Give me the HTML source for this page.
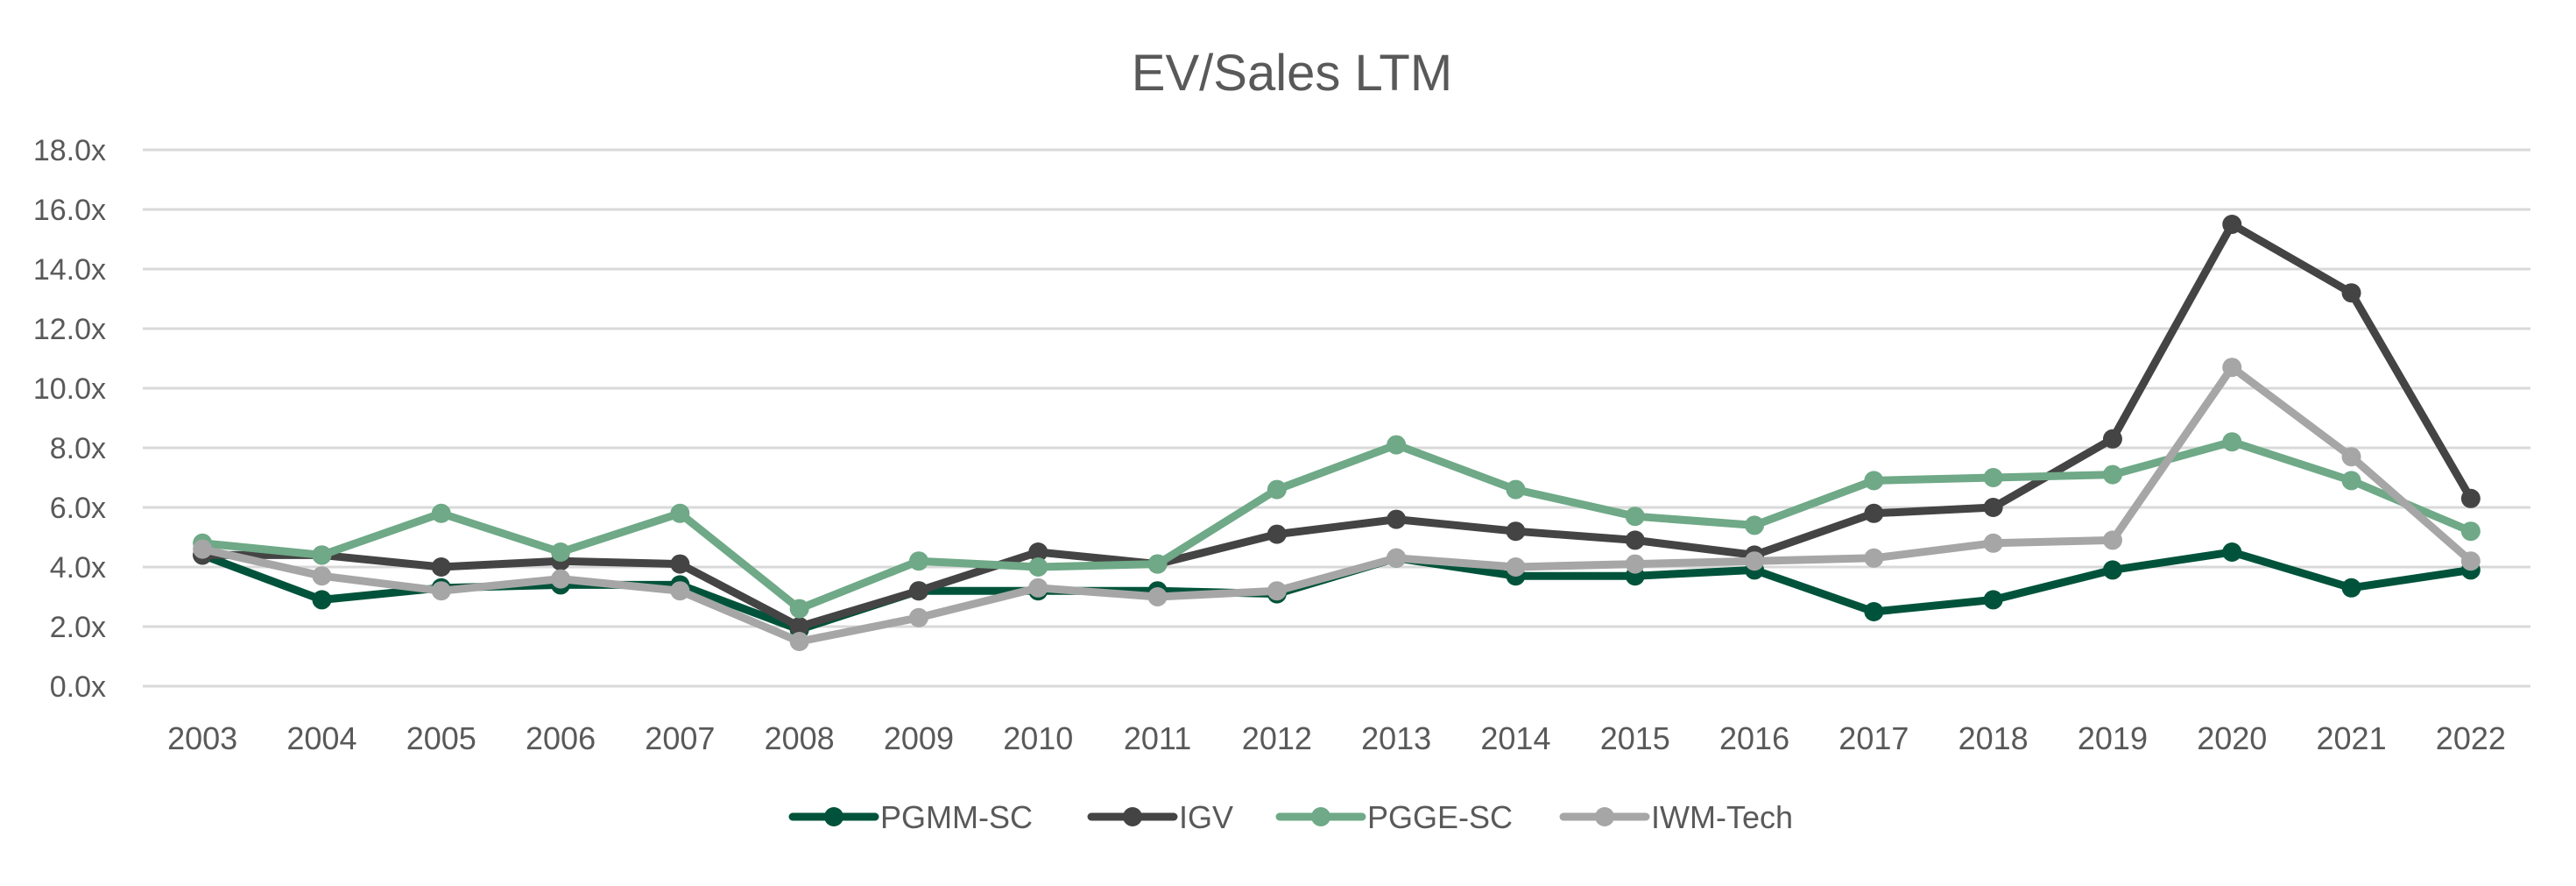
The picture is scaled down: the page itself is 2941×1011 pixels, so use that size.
<!DOCTYPE html>
<html><head><meta charset="utf-8"><style>
html,body{margin:0;padding:0;background:#fff;}
svg{display:block;font-family:"Liberation Sans","DejaVu Sans",sans-serif;}
</style></head><body>
<svg id="chart" width="2941" height="1011" viewBox="0 0 2941 1011" xmlns="http://www.w3.org/2000/svg">
<text x="1475" y="103" text-anchor="middle" font-size="58" fill="#595959">EV/Sales LTM</text>
<g id="grid"></g>
<g id="yaxis"></g>
<g id="xaxis"></g>
<g id="series"></g>
<g id="legend"></g>
</svg>
<script>
const categories = ["2003","2004","2005","2006","2007","2008","2009","2010","2011","2012","2013","2014","2015","2016","2017","2018","2019","2020","2021","2022"];
const yTicks = [0,2,4,6,8,10,12,14,16,18];
const seriesNames = ["PGMM-SC","IGV","PGGE-SC","IWM-Tech"];
const pgmm = [4.4,2.9,3.3,3.4,3.4,1.9,3.2,3.2,3.2,3.1,4.3,3.7,3.7,3.9,2.5,2.9,3.9,4.5,3.3,3.9];
const igv  = [4.4,4.4,4.0,4.2,4.1,2.0,3.2,4.5,4.1,5.1,5.6,5.2,4.9,4.4,5.8,6.0,8.3,15.5,13.2,6.3];
const pgge = [4.8,4.4,5.8,4.5,5.8,2.6,4.2,4.0,4.1,6.6,8.1,6.6,5.7,5.4,6.9,7.0,7.1,8.2,6.9,5.2];
const iwm  = [4.6,3.7,3.2,3.6,3.2,1.5,2.3,3.3,3.0,3.2,4.3,4.0,4.1,4.2,4.3,4.8,4.9,10.7,7.7,4.2];

const NS="http://www.w3.org/2000/svg";
const plotL=163, plotR=2889, plotT=171, plotB=783, yMax=18;
const band=(plotR-plotL)/categories.length;
function xPos(i){return plotL+band*(i+0.5);}
function yPos(v){return plotB-(v/yMax)*(plotB-plotT);}
function mk(tag,attrs,parent){const e=document.createElementNS(NS,tag);for(const k in attrs)e.setAttribute(k,attrs[k]);parent.appendChild(e);return e;}

const grid=document.getElementById('grid'), yax=document.getElementById('yaxis'), xax=document.getElementById('xaxis');
yTicks.forEach(t=>{
  const l=mk('line',{x1:plotL,x2:plotR,y1:yPos(t),y2:yPos(t),stroke:'#d9d9d9','stroke-width':3},grid);
  
  
  const tx=mk('text',{x:121,y:yPos(t)+12,'text-anchor':'end','font-size':34,fill:'#595959'},yax);
  tx.textContent=t.toFixed(1)+'x';
  
  
});
categories.forEach((c,i)=>{
  const tx=mk('text',{x:xPos(i),y:855,'text-anchor':'middle','font-size':36,fill:'#595959'},xax);
  tx.textContent=c;
  
  
});
const seriesData=[pgmm,igv,pgge,iwm];
const colors=["#00533a","#444444","#6fa987","#a6a6a6"];
const sg=document.getElementById('series');
seriesData.forEach((d,s)=>{
  const g=mk('g',{},sg);
  
  
  const pts=d.map((v,i)=>xPos(i)+','+yPos(v)).join(' ');
  const pl=mk('polyline',{points:pts,fill:'none',stroke:colors[s],'stroke-width':9,'stroke-linejoin':'round','stroke-linecap':'round'},g);
  
  
  d.forEach((v,i)=>{
    const c=mk('circle',{cx:xPos(i),cy:yPos(v),r:11,fill:colors[s]},g);
    
    
  });
});
const lg=document.getElementById('legend');
const legX=[952,1293,1508,1832];
seriesNames.forEach((n,s)=>{
  const g=mk('g',{},lg);
  
  
  mk('line',{x1:legX[s]-47,x2:legX[s]+47,y1:932,y2:932,stroke:colors[s],'stroke-width':9,'stroke-linecap':'round'},g);
  mk('circle',{cx:legX[s],cy:932,r:11,fill:colors[s]},g);
  const t=mk('text',{x:legX[s]+53,y:945,'font-size':36,fill:'#595959'},g);
  t.textContent=n;
});
</script>
</body></html>
